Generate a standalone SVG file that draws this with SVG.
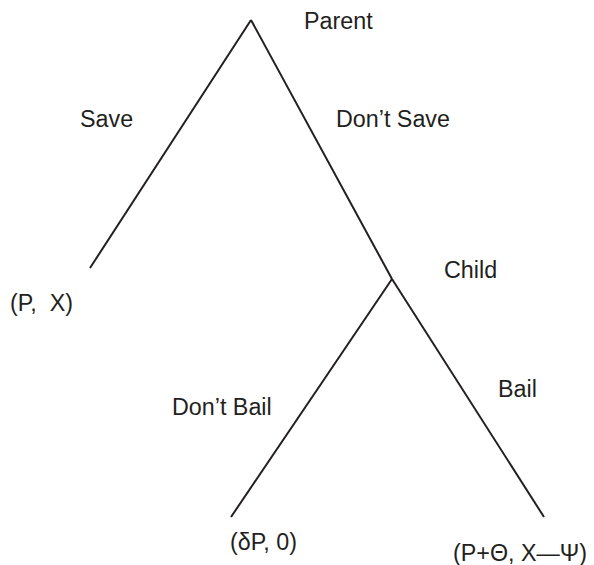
<svg xmlns="http://www.w3.org/2000/svg" width="594" height="565" viewBox="0 0 594 565">
<style>
.lbl{font-family:"Liberation Sans",Arial,sans-serif;font-size:23.3px;fill:#231f20;white-space:pre}
.edge{stroke:#231f20;stroke-width:2;fill:none}
</style>
<rect width="594" height="565" fill="#ffffff"/>
<g id="connectors">
<line class="edge" x1="251" y1="20" x2="90" y2="268"/>
<line class="edge" x1="251" y1="20" x2="392" y2="279"/>
<line class="edge" x1="392" y1="279" x2="544" y2="517"/>
<line class="edge" x1="392" y1="279" x2="231" y2="517"/>
</g>
<g id="parent"><text class="lbl" x="304" y="29">Parent</text></g>
<g id="save"><text class="lbl" x="80" y="127">Save</text></g>
<g id="dontsave"><text class="lbl" x="336" y="127">Don’t Save</text></g>
<g id="leafPX"><text class="lbl" x="10" y="311">(P,  X)</text></g>
<g id="child"><text class="lbl" x="444" y="278">Child</text></g>
<g id="dontbail"><text class="lbl" x="172" y="415">Don’t Bail</text></g>
<g id="bail"><text class="lbl" x="498" y="397">Bail</text></g>
<g id="leafdelta"><text class="lbl" x="230" y="550">(δP, 0)</text></g>
<g id="leafbail"><text class="lbl" x="453" y="561">(P+Θ, X—Ψ)</text></g>
</svg>
